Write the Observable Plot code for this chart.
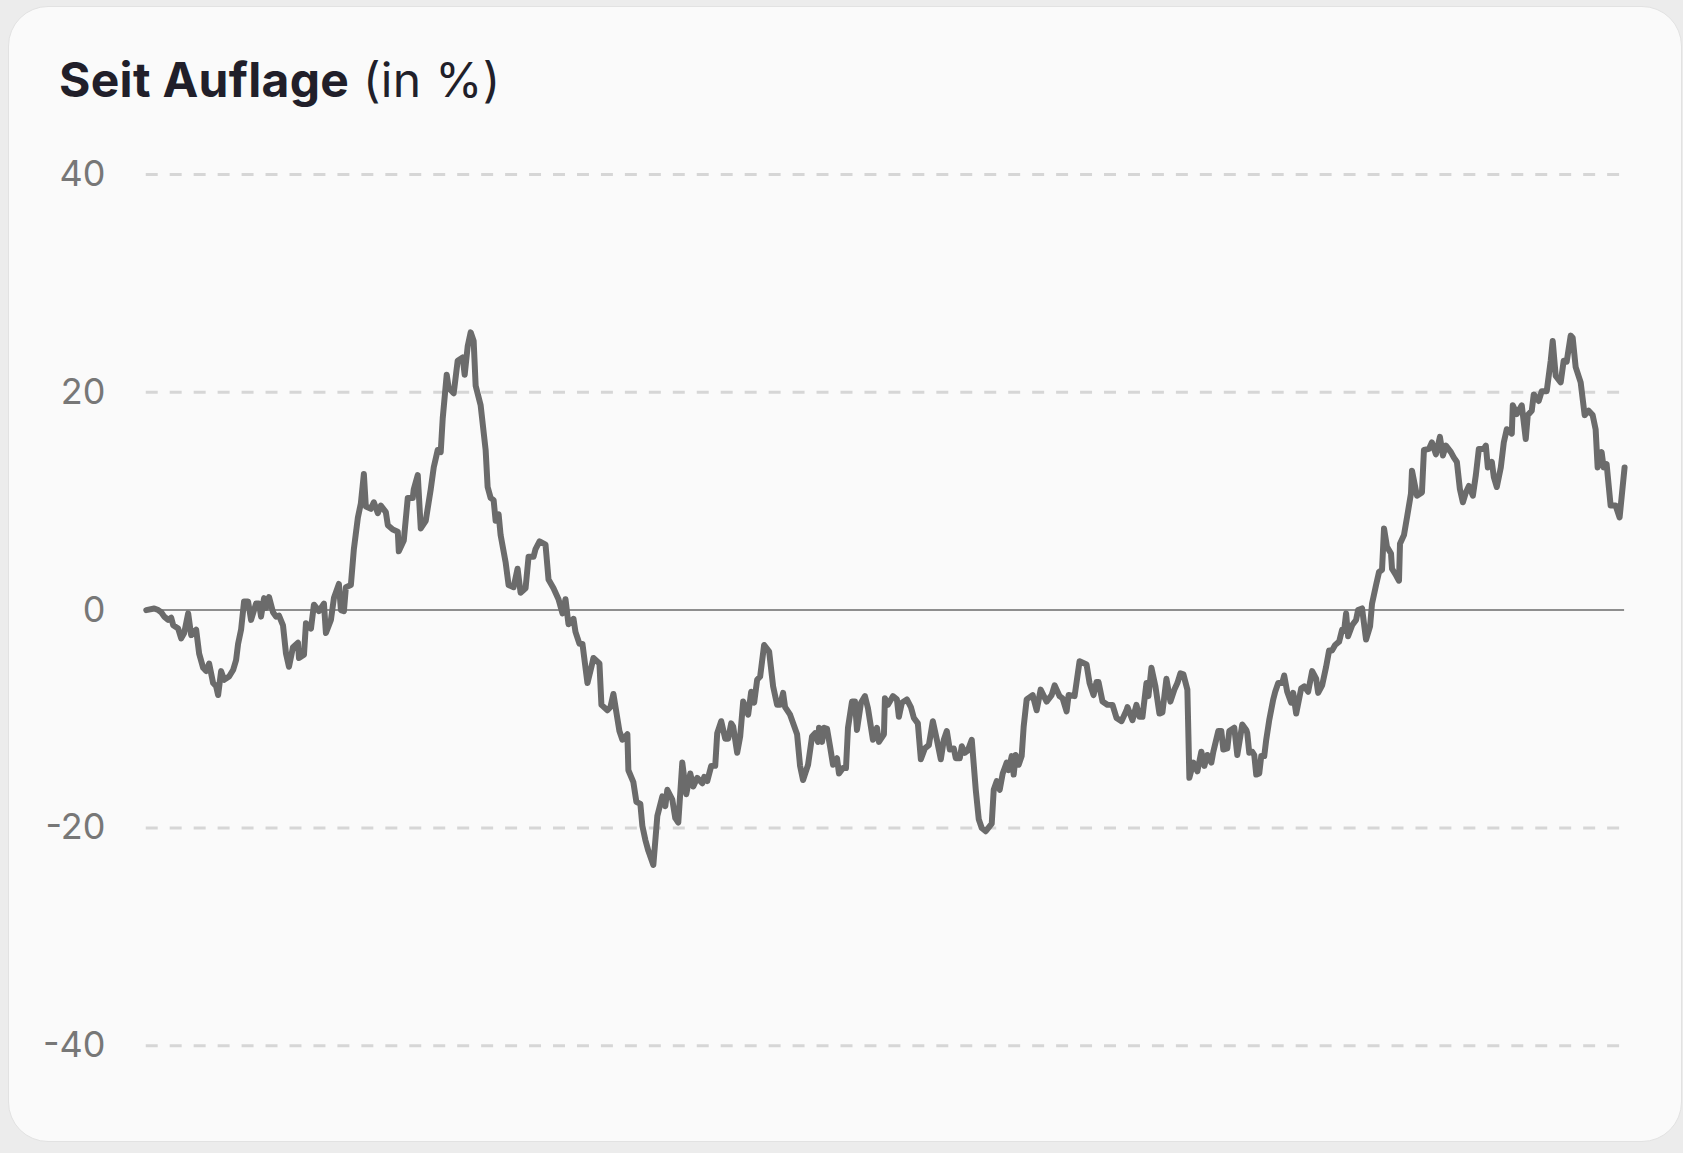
<!DOCTYPE html>
<html>
<head>
<meta charset="utf-8">
<script src="https://cdn.jsdelivr.net/npm/d3@7"></script>
<script src="https://cdn.jsdelivr.net/npm/@observablehq/plot@0.6"></script>
<style>
  html, body { margin: 0; padding: 0; background: #ececec; width: 1683px; height: 1153px; overflow: hidden; }
  .card { position: absolute; left: 8px; top: 6px; width: 1672px; height: 1134px; background: #fafafa;
          border: 1px solid #e2e2e2; border-radius: 40px; overflow: hidden; }
  .title { position: absolute; left: 50px; top: 49px; font-family: Inter, "Noto Sans", sans-serif; font-size: 48px;
           line-height: 48px; color: #211f2a; white-space: nowrap; letter-spacing: 0.3px; }
  .title b { font-weight: 700; }
  .title span { font-weight: 400; }
  #chart { position: absolute; left: -8px; top: 104px; }
</style>
</head>
<body>
<div class="card">
  <div class="title"><b>Seit Auflage</b> <span>(in %)</span></div>
  <div id="chart"></div>
</div>
<script>
// Trading-day index since launch (read from horizontal position) and performance in %
const tage = [0,8,12,15,18,22,25,27,32,35,38,42,45,50,53,57,60,63,67,70,72,75,78,83,87,90,92,95,98,102,105,110,113,115,118,120,123,127,130,133,137,140,143,147,152,153,158,160,165,168,173,178,180,185,188,193,195,198,200,205,208,212,215,218,220,225,228,232,235,240,242,247,252,253,258,262,267,268,272,275,280,285,288,292,295,297,301,303,308,312,317,319,322,325,328,330,335,340,342,345,348,350,353,355,360,363,368,372,375,380,383,388,390,394,400,403,408,413,417,420,423,428,430,434,437,442,446,448,454,456,462,465,468,474,477,482,483,488,491,495,497,500,503,508,512,517,520,522,527,530,533,537,541,545,548,552,557,559,562,566,570,572,576,580,583,586,588,592,595,598,603,606,609,612,615,619,624,628,632,635,638,640,645,652,655,658,663,667,670,673,674,677,679,682,685,688,692,694,698,701,703,707,710,712,716,720,723,728,732,734,739,740,743,748,752,754,757,762,766,769,773,776,780,784,788,792,796,799,802,805,809,811,815,817,820,823,827,831,834,837,841,847,849,852,855,858,862,864,867,869,871,874,877,879,882,888,892,896,902,907,910,915,918,922,924,930,935,942,945,949,952,954,958,963,968,972,977,982,983,988,992,995,998,1002,1004,1007,1011,1015,1018,1022,1026,1030,1033,1036,1039,1043,1045,1049,1053,1057,1060,1063,1067,1069,1074,1077,1079,1083,1085,1090,1093,1098,1102,1103,1105,1108,1110,1112,1115,1117,1120,1122,1125,1129,1131,1134,1138,1140,1143,1147,1149,1152,1157,1160,1164,1168,1172,1174,1178,1182,1185,1188,1191,1195,1198,1200,1202,1204,1208,1212,1214,1218,1222,1226,1228,1232,1235,1238,1240,1243,1247,1248,1252,1255,1256,1260,1263,1267,1268,1273,1278,1280,1285,1288,1292,1296,1299,1302,1307,1310,1313,1316,1319,1322,1325,1329,1332,1335,1340,1342,1344,1348,1350,1353,1357,1360,1363,1368,1369,1373,1378,1382,1384,1388,1390,1395,1398,1403,1407,1409,1412,1417,1420,1423,1427,1429,1432,1437,1441,1445,1449,1452,1454,1458,1460,1463,1467,1472,1476,1481];
const werte = [0,0.15,0,-0.2,-0.6,-0.9,-0.7,-1.4,-1.7,-2.6,-2.1,-0.3,-2.3,-1.8,-4.0,-5.3,-5.6,-4.9,-6.7,-7.0,-7.8,-5.6,-6.4,-6.1,-5.5,-4.6,-3.1,-1.8,0.8,0.8,-0.9,0.6,0.6,-0.6,1.1,0.2,1.2,-0.2,-0.6,-0.5,-1.4,-4.0,-5.2,-3.4,-3.0,-4.4,-4.1,-1.2,-1.7,0.5,-0.1,0.6,-2.1,-0.9,1.1,2.4,0,-0.1,2.1,2.3,5.6,8.5,9.8,12.5,9.5,9.3,9.9,8.9,9.6,9.0,7.8,7.4,7.2,5.4,6.4,10.3,10.3,11.1,12.4,7.5,8.2,11.1,13.1,14.7,14.5,17.6,21.6,20.4,19.9,22.9,23.2,21.6,24.2,25.5,24.7,20.6,18.8,14.7,11.3,10.3,10.1,8.2,8.8,6.9,4.4,2.3,2.1,3.8,1.6,2.0,4.9,4.9,5.6,6.3,6.0,2.8,2.0,1.0,-0.3,1.0,-1.3,-0.8,-2.0,-3.1,-3.1,-6.7,-5.2,-4.4,-4.9,-8.7,-9.2,-8.9,-7.7,-11.1,-11.9,-11.4,-14.7,-15.8,-17.6,-17.8,-19.8,-21.1,-22.1,-23.4,-18.9,-17.1,-18.0,-16.5,-17.4,-19.1,-19.5,-14.0,-16.9,-15.0,-16.2,-15.4,-15.9,-15.3,-15.7,-14.3,-14.3,-11.3,-10.2,-11.8,-11.8,-10.4,-10.7,-13.1,-11.6,-8.4,-9.6,-7.5,-8.5,-6.4,-6.1,-3.2,-3.8,-7.0,-8.7,-8.7,-7.6,-8.9,-9.6,-11.4,-14.3,-15.6,-14.2,-11.6,-11.3,-12.1,-10.8,-12.1,-10.8,-10.9,-12.5,-14.2,-13.6,-15.0,-14.5,-14.5,-10.8,-8.4,-8.4,-11.0,-8.5,-7.9,-9.0,-11.9,-10.8,-12.1,-11.4,-8.1,-8.7,-7.9,-8.2,-9.8,-8.5,-8.2,-8.9,-9.9,-10.4,-13.7,-12.7,-12.4,-10.2,-11.9,-13.7,-11.9,-11.1,-12.8,-12.7,-13.6,-13.6,-12.5,-13.1,-12.9,-11.9,-16.5,-19.2,-20.0,-20.3,-19.6,-16.5,-15.7,-16.5,-15.0,-14.0,-14.7,-13.4,-15.1,-13.3,-14.2,-13.4,-10.7,-8.2,-7.8,-9.2,-7.3,-8.4,-7.8,-6.9,-7.9,-8.1,-9.3,-7.8,-7.9,-4.7,-5.0,-6.7,-7.8,-6.6,-6.6,-8.4,-8.7,-8.7,-9.9,-10.2,-9.2,-8.9,-10.1,-8.7,-9.8,-9.8,-6.7,-7.9,-5.3,-7.0,-9.5,-9.4,-6.3,-8.4,-7.3,-6.7,-5.8,-5.9,-7.3,-15.4,-14.0,-14.8,-13.0,-14.3,-13.3,-14.0,-13.0,-11.1,-11.1,-12.8,-12.7,-11.1,-10.8,-13.3,-10.5,-11.0,-11.3,-13.1,-13.0,-13.3,-15.1,-15.0,-13.4,-13.4,-11.9,-10.1,-8.2,-7.5,-6.7,-6.7,-6.0,-7.5,-8.5,-7.6,-9.5,-7.2,-7.0,-7.5,-5.6,-6.3,-7.6,-6.9,-5.2,-3.7,-3.7,-3.2,-2.9,-1.8,-1.9,-0.3,-2.4,-1.4,-0.9,0,0.15,-2.7,-1.5,0.6,2.3,3.5,3.7,7.5,5.8,5.2,3.8,3.2,2.7,6.1,6.9,8.5,10.7,12.8,10.5,10.8,14.7,14.8,15.4,14.3,15.9,14.2,15.1,14.5,14.0,13.6,11.1,9.9,10.8,11.4,10.5,12.4,14.8,14.8,15.1,13.1,13.6,12.2,11.3,13.1,15.4,16.6,16.2,18.8,18.0,18.8,15.7,17.9,18.3,19.8,19.2,20.1,20.1,22.9,24.7,21.5,20.9,22.9,22.8,25.2,25.0,22.3,20.9,17.9,18.3,17.9,16.6,13.1,14.5,13.1,13.4,9.6,9.6,8.5,13.1];
const yTicks = [-40, -20, 0, 20, 40];
const gridTicks = [-40, -20, 20, 40];

const data = tage.map((t, i) => ({tag: t, wert: werte[i]}));

const chart = Plot.plot({
  width: 1683,
  height: 1000,
  marginLeft: 145,
  marginRight: 57,
  marginTop: 63,
  marginBottom: 64,
  style: {fontFamily: "Inter, 'Noto Sans', sans-serif", background: "transparent", overflow: "visible"},
  x: {domain: [0, 1481], axis: null},
  y: {domain: [-40, 40]},
  marks: [
    Plot.ruleY(gridTicks, {stroke: "#d6d6d6", strokeWidth: 3, strokeDasharray: "12,12"}),
    Plot.ruleY([0], {stroke: "#6a6a6a", strokeWidth: 1.5}),
    Plot.axisY(yTicks, {tickSize: 0, tickPadding: 41, fontSize: 36, fontVariant: "normal", fill: "#777", tickFormat: d => String(d), label: null}),
    Plot.line(data, {x: "tag", y: "wert", stroke: "#6b6b6b", strokeWidth: 6})
  ]
});
document.getElementById("chart").appendChild(chart);
</script>
</body>
</html>
